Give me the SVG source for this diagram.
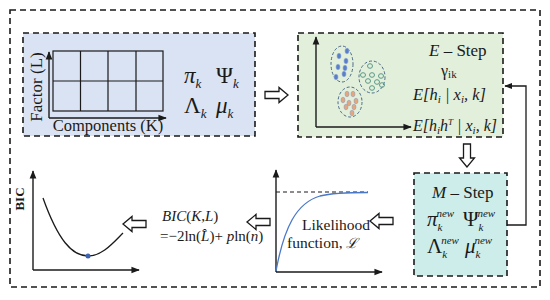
<svg xmlns="http://www.w3.org/2000/svg" width="550" height="300" viewBox="0 0 550 300">
<style>
.dash{fill:none;stroke:#1a1a1a;stroke-width:1.6;stroke-dasharray:6 4}
.ax{fill:none;stroke:#1a1a1a;stroke-width:1.4}
.t{font-family:'Liberation Serif','Times New Roman',serif;fill:#1a1a1a}
.i{font-style:italic}
.big{font-size:23px}
.sub{font-size:13px}
.sup{font-size:11px}
.ha{fill:#fff;stroke:#1a1a1a;stroke-width:1.3;stroke-linejoin:miter}
.cl{fill:none;stroke-width:1;stroke-dasharray:3 2}
</style>
<defs>
<marker id="ah" viewBox="0 0 10 10" refX="9" refY="5" markerWidth="6" markerHeight="6" orient="auto">
<path d="M0,1 L10,5 L0,9 Z" fill="#1a1a1a"/>
</marker>
<path id="hl" d="M0,0 L9,-7.5 L9,-3.5 L23,-3.5 L23,3.5 L9,3.5 L9,7.5 Z"/>
</defs>

<rect x="10" y="10" width="530" height="277" class="dash"/>

<g id="init">
<rect x="23" y="33" width="232" height="103" fill="#dae3f3"/>
<rect x="23" y="33" width="232" height="103" class="dash"/>
<rect x="53" y="51" width="110" height="60" fill="none" stroke="#1a1a1a" stroke-width="1.2"/>
<path d="M80.5,51 V111 M108,51 V111 M136,51 V111 M53,81 H163" stroke="#1a1a1a" stroke-width="1.2" fill="none"/>
<line x1="49" y1="118" x2="49" y2="52" class="ax" marker-end="url(#ah)"/>
<line x1="49" y1="118" x2="166" y2="118" class="ax" marker-end="url(#ah)"/>
<text class="t" font-size="17" transform="translate(42,87) rotate(-90)" text-anchor="middle">Factor (L)</text>
<text class="t" font-size="16.5" x="108" y="131" text-anchor="middle">Components (K)</text>
<text class="t big" x="184" y="83"><tspan class="i">π</tspan><tspan class="sub i" dy="5">k</tspan></text>
<text class="t big" x="216" y="83">Ψ<tspan class="sub i" dy="5">k</tspan></text>
<text class="t big" x="184" y="113">Λ<tspan class="sub i" dy="5">k</tspan></text>
<text class="t big" x="216" y="113"><tspan class="i">μ</tspan><tspan class="sub i" dy="5">k</tspan></text>
</g>

<g id="estep">
<rect x="298" y="33" width="205" height="104" fill="#e2efda"/>
<rect x="298" y="33" width="205" height="104" class="dash"/>
<line x1="316" y1="127" x2="316" y2="37" class="ax" marker-end="url(#ah)"/>
<line x1="316" y1="127" x2="411" y2="127" class="ax" marker-end="url(#ah)"/>
<ellipse cx="342" cy="64" rx="11" ry="18" class="cl" stroke="#4a6a8a"/>
<ellipse cx="372" cy="77" rx="13" ry="16" class="cl" stroke="#4a6a8a"/>
<ellipse cx="350" cy="102" rx="12" ry="15" class="cl" stroke="#4a6a8a"/>
<g fill="#5b7fc7" stroke="#8aa8dc" stroke-width="0.6">
<ellipse cx="347" cy="51" rx="2" ry="2.8"/><ellipse cx="339" cy="56" rx="2" ry="2.8"/>
<ellipse cx="346" cy="61" rx="2" ry="2.8"/><ellipse cx="338" cy="67" rx="2" ry="2.8"/>
<ellipse cx="345" cy="68" rx="2" ry="2.8"/><ellipse cx="344" cy="74" rx="2" ry="2.8"/>
<ellipse cx="336" cy="77" rx="2" ry="2.8"/>
</g>
<g fill="none" stroke="#5a9a88" stroke-width="1">
<ellipse cx="370" cy="66" rx="2.5" ry="2.3"/><ellipse cx="363" cy="75" rx="2.5" ry="2.3"/>
<ellipse cx="372" cy="75" rx="2.5" ry="2.3"/><ellipse cx="381" cy="76" rx="2.5" ry="2.3"/>
<ellipse cx="368" cy="81" rx="2.5" ry="2.3"/><ellipse cx="377" cy="82" rx="2.5" ry="2.3"/>
<ellipse cx="372" cy="88" rx="2.5" ry="2.3"/><ellipse cx="382" cy="85" rx="2.5" ry="2.3"/>
</g>
<g fill="#e8a47a" stroke="#8fa0c0" stroke-width="0.6">
<ellipse cx="347" cy="94" rx="2" ry="2.8"/><ellipse cx="353" cy="94" rx="2" ry="2.8"/>
<ellipse cx="343" cy="100" rx="2" ry="2.8"/><ellipse cx="349" cy="103" rx="2" ry="2.8"/>
<ellipse cx="356" cy="101" rx="2" ry="2.8"/><ellipse cx="346" cy="107" rx="2" ry="2.8"/>
<ellipse cx="354" cy="107" rx="2" ry="2.8"/><ellipse cx="352" cy="113" rx="2" ry="2.8"/>
</g>
<text class="t" font-size="17" x="429" y="56"><tspan class="i">E</tspan> – Step</text>
<text class="t" font-size="16" x="441" y="76">γ<tspan font-size="11" dy="2">ik</tspan></text>
<text class="t i" font-size="16.5" x="413" y="100">E[h<tspan class="sup" dy="3">i</tspan><tspan dy="-3"> | x</tspan><tspan class="sup" dy="3">i</tspan><tspan dy="-3">, k]</tspan></text>
<text class="t i" font-size="16" x="413" y="131">E[h<tspan class="sup" dy="3">i</tspan><tspan dy="-3">h</tspan><tspan font-size="9" dy="-6">T</tspan><tspan dy="6"> | x</tspan><tspan class="sup" dy="3">i</tspan><tspan dy="-3">, k]</tspan></text>
</g>

<g id="mstep">
<rect x="414" y="173" width="93" height="103" fill="#ccede9"/>
<rect x="414" y="173" width="93" height="103" class="dash"/>
<text class="t" font-size="17" x="432" y="198"><tspan class="i">M</tspan> – Step</text>
<text class="t" font-size="21" x="427" y="226"><tspan class="i">π</tspan><tspan class="sup i" dy="5">k</tspan><tspan class="sup i" dx="-6" dy="-14">new</tspan></text>
<text class="t" font-size="21" x="463" y="226">Ψ<tspan class="sup i" dy="5">k</tspan><tspan class="sup i" dx="-6" dy="-14">new</tspan></text>
<text class="t" font-size="21" x="427" y="253">Λ<tspan class="sup i" dy="5">k</tspan><tspan class="sup i" dx="-6" dy="-14">new</tspan></text>
<text class="t" font-size="21" x="465" y="253"><tspan class="i">μ</tspan><tspan class="sup i" dy="5">k</tspan><tspan class="sup i" dx="-6" dy="-14">new</tspan></text>
</g>

<g id="likelihood">
<line x1="276" y1="272" x2="276" y2="170" class="ax" marker-end="url(#ah)"/>
<line x1="276" y1="272" x2="382" y2="272" class="ax" marker-end="url(#ah)"/>
<line x1="276" y1="192" x2="368" y2="192" stroke="#1a1a1a" stroke-width="1" stroke-dasharray="4 3"/>
<path d="M276,271 C284,228 296,203 320,196 C332,193 345,192.5 368,192.5" fill="none" stroke="#4a78c8" stroke-width="1.3"/>
<text class="t" font-size="15.5" x="302" y="230">Likelihood</text>
<text class="t" font-size="15.5" x="287" y="248">function, <tspan class="i" font-size="14">ℒ</tspan></text>
</g>

<g id="bic">
<line x1="33" y1="270" x2="33" y2="171" class="ax" marker-end="url(#ah)"/>
<line x1="33" y1="270" x2="139" y2="270" class="ax" marker-end="url(#ah)"/>
<text class="t" font-size="13" font-weight="bold" transform="translate(24,199) rotate(-90)" text-anchor="middle">BIC</text>
<path d="M43,198 C58,240 72,256 88,256 C102,256 112,244 123,233" fill="none" stroke="#1a1a1a" stroke-width="1.3"/>
<circle cx="88" cy="256" r="2.5" fill="#3d62b0"/>
</g>

<g id="formula">
<text class="t" font-size="15" x="162" y="221"><tspan class="i">BIC</tspan>(<tspan class="i">K</tspan>,<tspan class="i">L</tspan>)</text>
<text class="t" font-size="15" x="160" y="241">=−2ln(<tspan class="i">L̂</tspan>)+ <tspan class="i">p</tspan>ln(<tspan class="i">n</tspan>)</text>
</g>

<g id="connectors">
<use href="#hl" class="ha" transform="translate(288,95) rotate(180)"/>
<use href="#hl" class="ha" transform="translate(467,167) rotate(-90)"/>
<use href="#hl" class="ha" transform="translate(370,221)"/>
<use href="#hl" class="ha" transform="translate(247,222)"/>
<use href="#hl" class="ha" transform="translate(123,224)"/>
<polyline points="507,225 526,225 526,86 505,86" fill="none" stroke="#1a1a1a" stroke-width="1.3" marker-end="url(#ah)"/>
</g>
</svg>
